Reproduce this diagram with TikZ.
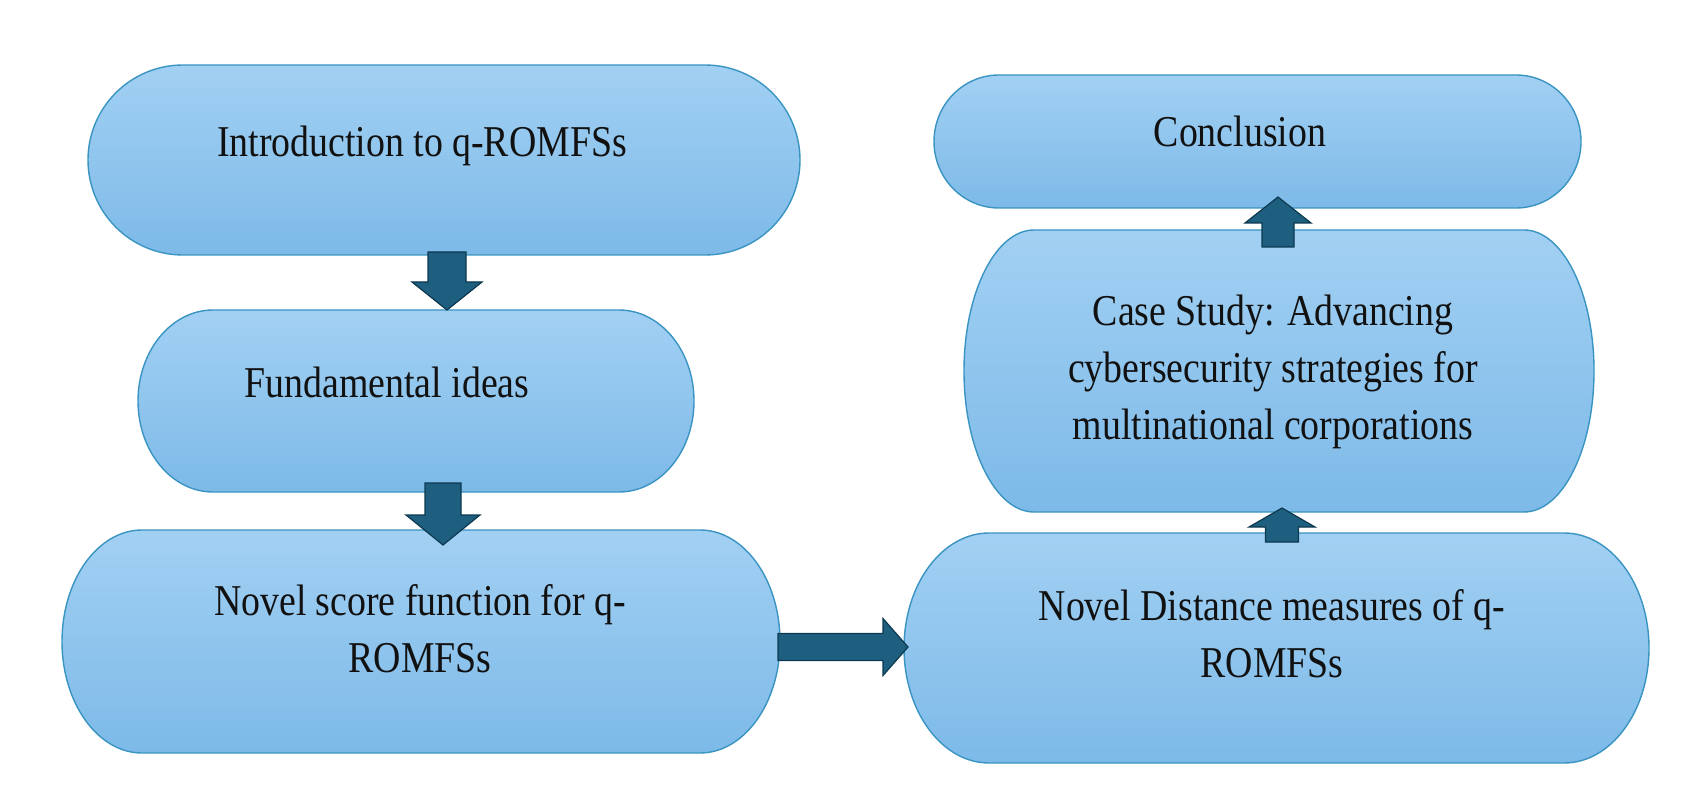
\documentclass[tikz,border=0pt]{standalone}
\usepackage{fontspec}
\setmainfont{Liberation Serif}[FakeStretch=0.86]
\usetikzlibrary{calc}
\definecolor{boxtop}{HTML}{A2D0F3}
\definecolor{boxbot}{HTML}{7DBAE8}
\definecolor{boxline}{HTML}{3A94C2}
\definecolor{arrfill}{HTML}{1E5F80}
\definecolor{arrline}{HTML}{0D3A50}
\definecolor{txt}{HTML}{111111}
\tikzset{
  boxarea/.style={rectangle, draw=none, inner sep=0pt, outer sep=0pt},
  pillstyle/.style={top color=boxtop, bottom color=boxbot, draw=boxline, line width=1.4pt},
  blockarr/.style={fill=arrfill, draw=arrline, line width=1.2pt, line join=miter},
  lbl/.style={text=txt, font=\fontsize{44}{57}\selectfont, align=center, anchor=base, inner sep=0pt}
}
\newcommand\pill[3]{%
  \path[pillstyle] ([xshift=#2]#1.north west) -- ([xshift=-#2]#1.north east)
    arc[start angle=90,end angle=0,x radius=#2,y radius=#3]
    -- ([yshift=#3]#1.south east)
    arc[start angle=0,end angle=-90,x radius=#2,y radius=#3]
    -- ([xshift=#2]#1.south west)
    arc[start angle=270,end angle=180,x radius=#2,y radius=#3]
    -- ([yshift=-#3]#1.north west)
    arc[start angle=180,end angle=90,x radius=#2,y radius=#3] -- cycle;}
\newcommand\blockarrow[5]{%
  \coordinate (tmpH) at ($(#2)!#5!(#1)$);
  \draw[blockarr] ($(#1)!#3!90:(#2)$) -- ($(tmpH)!#3!90:(#2)$) -- ($(tmpH)!#4!90:(#2)$)
    -- (#2) -- ($(tmpH)!#4!-90:(#2)$) -- ($(tmpH)!#3!-90:(#2)$) -- ($(#1)!#3!-90:(#2)$) -- cycle;}
\begin{document}
\begin{tikzpicture}[x=1pt,y=-1pt]
\fill[white] (0,0) rectangle (1696,799);
\useasboundingbox (0,0) rectangle (1696,799);
% box areas
\node[boxarea, minimum width=712pt, minimum height=190pt] (b1) at (444,160) {};
\node[boxarea, minimum width=556pt, minimum height=182pt] (b2) at (416,401) {};
\node[boxarea, minimum width=718pt, minimum height=223pt] (b3) at (421,641.5) {};
\node[boxarea, minimum width=745pt, minimum height=230pt] (b4) at (1276.5,648) {};
\node[boxarea, minimum width=630pt, minimum height=282pt] (b5) at (1279,371) {};
\node[boxarea, minimum width=647pt, minimum height=133pt] (b6) at (1257.5,141.5) {};
% shapes
\pill{b1}{95pt}{95pt}
\pill{b2}{75pt}{91pt}
\pill{b3}{80pt}{111.5pt}
\pill{b4}{85pt}{115pt}
\pill{b5}{70pt}{141pt}
\pill{b6}{65pt}{66.5pt}
% texts (anchor base = baseline of last line)
\node[lbl] (t1) at (422,157) {Introduction to q-ROMFSs};
\node[lbl] (t2) at (387,397) {Fundamental ideas};
\node[lbl] (t3) at (420,672) {Novel score function for q-\\ROMFSs};
\node[lbl] (t4) at (1272,677) {Novel Distance measures of q-\\ROMFSs};
\node[lbl] (t5) at (1273,439) {Case Study: Advancing\\cybersecurity strategies for\\multinational corporations};
\node[lbl] (t6) at (1240,147) {Conclusion};
% arrow end points
\coordinate (a1p) at ([xshift=3pt,yshift=3pt]b1.south);
\coordinate (a1q) at ([xshift=31pt]b2.north);
\coordinate (a2p) at ([xshift=27pt,yshift=9pt]b2.south);
\coordinate (a2q) at ([xshift=22pt,yshift=-15pt]b3.north);
\coordinate (a3p) at ([xshift=-2pt,yshift=-5.5pt]b3.east);
\coordinate (a3q) at ([xshift=4pt,yshift=1pt]b4.west);
\coordinate (a4p) at ([xshift=5.5pt,yshift=-9pt]b4.north);
\coordinate (a4q) at ([xshift=3pt,yshift=4pt]b5.south);
\coordinate (a5p) at ([xshift=-1pt,yshift=-17pt]b5.north);
\coordinate (a5q) at ([xshift=20.5pt,yshift=11pt]b6.south);
\blockarrow{a1p}{a1q}{19pt}{35pt}{28pt}
\blockarrow{a2p}{a2q}{18pt}{37pt}{30pt}
\blockarrow{a3p}{a3q}{13.5pt}{28.5pt}{25pt}
\blockarrow{a4p}{a4q}{16.5pt}{33pt}{19pt}
\blockarrow{a5p}{a5q}{16pt}{33pt}{26pt}
\end{tikzpicture}
\end{document}
